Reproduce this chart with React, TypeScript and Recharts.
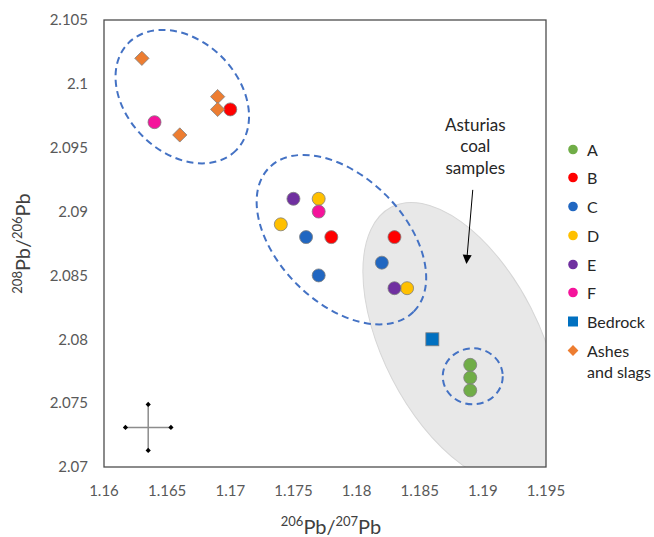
import React from 'react';
import { ScatterChart, Scatter, XAxis, YAxis, ReferenceArea, ReferenceLine, Legend, Label } from 'recharts';

const FONT = 'Lato, "Open Sans", sans-serif';

// ---- axes ----
const xDomain = [1.16, 1.195];
const yDomain = [2.07, 2.105];
const xTicks = [1.16, 1.165, 1.17, 1.175, 1.18, 1.185, 1.19, 1.195];
const yTicks = [2.07, 2.075, 2.08, 2.085, 2.09, 2.095, 2.1, 2.105];

// ---- series (206Pb/207Pb, 208Pb/206Pb) ----
const seriesA = [
  { x: 1.189, y: 2.078 },
  { x: 1.189, y: 2.077 },
  { x: 1.189, y: 2.076 },
];
const seriesB = [
  { x: 1.17, y: 2.098 },
  { x: 1.178, y: 2.088 },
  { x: 1.183, y: 2.088 },
];
const seriesC = [
  { x: 1.176, y: 2.088 },
  { x: 1.177, y: 2.085 },
  { x: 1.182, y: 2.086 },
];
const seriesD = [
  { x: 1.177, y: 2.091 },
  { x: 1.174, y: 2.089 },
  { x: 1.184, y: 2.084 },
];
const seriesE = [
  { x: 1.175, y: 2.091 },
  { x: 1.183, y: 2.084 },
];
const seriesF = [
  { x: 1.164, y: 2.097 },
  { x: 1.177, y: 2.09 },
];
const seriesBedrock = [{ x: 1.186, y: 2.08 }];
const seriesAshes = [
  { x: 1.163, y: 2.102 },
  { x: 1.169, y: 2.099 },
  { x: 1.169, y: 2.098 },
  { x: 1.166, y: 2.096 },
];

// ---- typical uncertainty cross ----
const errorCenter = { x: 1.1635, y: 2.0731 };
const errorHalfX = 0.0018;
const errorHalfY = 0.0018;

// ---- annotation anchors (data coordinates) ----
const clusterCenters = [
  { x: 1.1662, y: 2.099 },
  { x: 1.1788, y: 2.0878 },
  { x: 1.1892, y: 2.0771 },
];
const coalFieldCenter = { x: 1.1883, y: 2.0797 };
const coalLabelLines = ['Asturias', 'coal', 'samples'];
const coalLabelAnchor = { x: 1.1894, y: 2.0963 };
const arrowFrom = { x: 1.1892, y: 2.0917 };
const arrowTo = { x: 1.1887, y: 2.0859 };

// ---- styles (pixels) ----
const clusterShapes = [
  { rx: 76, ry: 56, angle: 45 },
  { rx: 102, ry: 63, angle: 45 },
  { rx: 30, ry: 28, angle: 0 },
];
const coalFieldShape = { rx: 153, ry: 78, angle: 62.8 };

const seriesList = [
  { name: 'A', data: seriesA, color: '#70AD47', kind: 'circle' },
  { name: 'B', data: seriesB, color: '#FF0000', kind: 'circle' },
  { name: 'C', data: seriesC, color: '#2167C1', kind: 'circle' },
  { name: 'D', data: seriesD, color: '#FFC000', kind: 'circle' },
  { name: 'E', data: seriesE, color: '#7030A0', kind: 'circle' },
  { name: 'F', data: seriesF, color: '#F5139B', kind: 'circle' },
  { name: 'Bedrock', data: seriesBedrock, color: '#0070C0', kind: 'square' },
  { name: 'Ashes and slags', data: seriesAshes, color: '#ED7D31', kind: 'diamond' },
];
const legendLines: Record<string, string[]> = {
  'Ashes and slags': ['Ashes', 'and slags'],
};

function Marker({ kind, color, cx, cy, size, stroke }: any) {
  if (kind === 'circle') {
    return <circle cx={cx} cy={cy} r={size} fill={color} stroke={stroke} strokeWidth={0.8} />;
  }
  if (kind === 'square') {
    return (
      <rect x={cx - size} y={cy - size} width={size * 2} height={size * 2} fill={color} stroke={stroke} strokeWidth={0.8} />
    );
  }
  const d = size * 1.08;
  return (
    <polygon
      points={`${cx},${cy - d} ${cx + d},${cy} ${cx},${cy + d} ${cx - d},${cy}`}
      fill={color}
      stroke={stroke}
      strokeWidth={0.8}
    />
  );
}

const makeShape = (kind: string, color: string) => (props: any) => {
  const { cx, cy } = props;
  if (cx == null || cy == null) return <g />;
  const size = kind === 'circle' ? 6.5 : kind === 'square' ? 6.5 : 6.6;
  return <Marker kind={kind} color={color} cx={cx} cy={cy} size={size} stroke="#7F7F7F" />;
};

const endShape = (props: any) => {
  const { cx, cy } = props;
  if (cx == null || cy == null) return <g />;
  return <polygon points={`${cx},${cy - 2.6} ${cx + 2.6},${cy} ${cx},${cy + 2.6} ${cx - 2.6},${cy}`} fill="#000" />;
};

function Annotations(props: any) {
  const { x, y, width, height } = props;
  if (x == null || width == null) return <g />;
  const sx = (v: number) => x + ((v - xDomain[0]) / (xDomain[1] - xDomain[0])) * width;
  const sy = (v: number) => y + ((yDomain[1] - v) / (yDomain[1] - yDomain[0])) * height;

  const fcx = sx(coalFieldCenter.x);
  const fcy = sy(coalFieldCenter.y);

  const ax1 = sx(arrowFrom.x);
  const ay1 = sy(arrowFrom.y);
  const ax2 = sx(arrowTo.x);
  const ay2 = sy(arrowTo.y);
  const len = Math.hypot(ax2 - ax1, ay2 - ay1);
  const ux = (ax2 - ax1) / len;
  const uy = (ay2 - ay1) / len;
  const hl = 9;
  const hw = 4.5;
  const bx = ax2 - ux * hl;
  const by = ay2 - uy * hl;

  return (
    <g>
      <defs>
        <clipPath id="plotClipArea">
          <rect x={x} y={y} width={width} height={height} />
        </clipPath>
      </defs>
      <g clipPath="url(#plotClipArea)">
        <ellipse
          cx={fcx}
          cy={fcy}
          rx={coalFieldShape.rx}
          ry={coalFieldShape.ry}
          transform={`rotate(${coalFieldShape.angle} ${fcx} ${fcy})`}
          fill="#E8E8E8"
          stroke="#D6D6D6"
          strokeWidth={1}
        />
      </g>
      {clusterCenters.map((c, i) => {
        const cx = sx(c.x);
        const cy = sy(c.y);
        const s = clusterShapes[i];
        return (
          <ellipse
            key={i}
            cx={cx}
            cy={cy}
            rx={s.rx}
            ry={s.ry}
            transform={`rotate(${s.angle} ${cx} ${cy})`}
            fill="none"
            stroke="#4472C4"
            strokeWidth={2}
            strokeDasharray="7 4.5"
          />
        );
      })}
      <text
        x={sx(coalLabelAnchor.x)}
        y={sy(coalLabelAnchor.y)}
        textAnchor="middle"
        fontFamily={FONT}
        fontSize={17}
        fill="#262626"
      >
        {coalLabelLines.map((t, i) => (
          <tspan key={i} x={sx(coalLabelAnchor.x)} dy={i === 0 ? 0 : 21.3}>
            {t}
          </tspan>
        ))}
      </text>
      <line x1={ax1} y1={ay1} x2={bx} y2={by} stroke="#000" strokeWidth={1} />
      <polygon
        points={`${ax2},${ay2} ${bx - uy * hw},${by + ux * hw} ${bx + uy * hw},${by - ux * hw}`}
        fill="#000"
      />
      <rect x={x} y={y} width={width} height={height} fill="none" stroke="#4D4D4D" strokeWidth={1.3} />
    </g>
  );
}

const YTitle = (props: any) => {
  const vb = props.viewBox || { x: 0, y: 20, width: 104, height: 447 };
  const tx = vb.x + 30;
  const ty = vb.y + vb.height / 2;
  return (
    <text transform={`translate(${tx},${ty}) rotate(-90)`} textAnchor="middle" fontFamily={FONT} fill="#404040">
      <tspan fontSize={13} dy={-8}>208</tspan>
      <tspan fontSize={20} dy={8}>Pb/</tspan>
      <tspan fontSize={13} dy={-8}>206</tspan>
      <tspan fontSize={20} dy={8}>Pb</tspan>
    </text>
  );
};

const XTitle = (props: any) => {
  const vb = props.viewBox || { x: 104, y: 467, width: 442, height: 40 };
  const tx = vb.x + vb.width / 2 + 6;
  const ty = vb.y + 67;
  return (
    <text x={tx} y={ty} textAnchor="middle" fontFamily={FONT} fill="#404040">
      <tspan fontSize={13} dy={-8}>206</tspan>
      <tspan fontSize={20} dy={8}>Pb/</tspan>
      <tspan fontSize={13} dy={-8}>207</tspan>
      <tspan fontSize={20} dy={8}>Pb</tspan>
    </text>
  );
};

const LegendContent = () => (
  <div style={{ fontFamily: FONT, fontSize: 16, color: '#262626' }}>
    {seriesList.map((s) => {
      const lines = legendLines[s.name] || [s.name];
      return (
        <div key={s.name} style={{ display: 'flex', alignItems: 'flex-start', height: 28.8 }}>
          <svg width={12} height={21} style={{ flex: 'none', display: 'block' }}>
            <Marker kind={s.kind} color={s.color} cx={6} cy={10.5} size={s.kind === 'circle' ? 4.8 : 5} stroke="none" />
          </svg>
          <div style={{ marginLeft: 8, lineHeight: '21px', whiteSpace: 'nowrap' }}>
            {lines.map((l, i) => (
              <div key={i}>{l}</div>
            ))}
          </div>
        </div>
      );
    })}
  </div>
);

const errorEnds = [
  { x: errorCenter.x - errorHalfX, y: errorCenter.y },
  { x: errorCenter.x + errorHalfX, y: errorCenter.y },
  { x: errorCenter.x, y: errorCenter.y - errorHalfY },
  { x: errorCenter.x, y: errorCenter.y + errorHalfY },
];

export default function App() {
  return (
    <div style={{ position: 'absolute', left: 0, top: 0 }}>
      <ScatterChart width={654} height={537} margin={{ top: 20, right: 108, bottom: 30, left: 0 }}>
        <XAxis
          type="number"
          dataKey="x"
          domain={xDomain}
          ticks={xTicks}
          allowDataOverflow
          axisLine={false}
          tickLine={false}
          tickSize={6}
          tickMargin={12}
          height={40}
          interval={0}
          tick={{ fill: '#595959', fontSize: 15, fontFamily: FONT }}
        >
          <Label content={XTitle} />
        </XAxis>
        <YAxis
          type="number"
          dataKey="y"
          domain={yDomain}
          ticks={yTicks}
          allowDataOverflow
          axisLine={false}
          tickLine={false}
          tickSize={6}
          tickMargin={10}
          width={104}
          interval={0}
          tick={{ fill: '#595959', fontSize: 15, fontFamily: FONT }}
        >
          <Label content={YTitle} />
        </YAxis>
        <ReferenceArea
          x1={xDomain[0]}
          x2={xDomain[1]}
          y1={yDomain[0]}
          y2={yDomain[1]}
          ifOverflow="visible"
          shape={(p: any) => <Annotations {...p} />}
        />
        <ReferenceLine
          segment={[
            { x: errorCenter.x - errorHalfX, y: errorCenter.y },
            { x: errorCenter.x + errorHalfX, y: errorCenter.y },
          ]}
          stroke="#8C8C8C"
          strokeWidth={1.5}
        />
        <ReferenceLine
          segment={[
            { x: errorCenter.x, y: errorCenter.y - errorHalfY },
            { x: errorCenter.x, y: errorCenter.y + errorHalfY },
          ]}
          stroke="#8C8C8C"
          strokeWidth={1.5}
        />
        <Scatter data={errorEnds} shape={endShape} legendType="none" isAnimationActive={false} />
        {seriesList.map((s) => (
          <Scatter
            key={s.name}
            name={s.name}
            data={s.data}
            fill={s.color}
            shape={makeShape(s.kind, s.color)}
            isAnimationActive={false}
          />
        ))}
        <Legend
          layout="vertical"
          align="center"
          verticalAlign="middle"
          wrapperStyle={{ left: 567, top: 138.5, width: 90, height: 240 }}
          content={LegendContent}
        />
      </ScatterChart>
    </div>
  );
}
